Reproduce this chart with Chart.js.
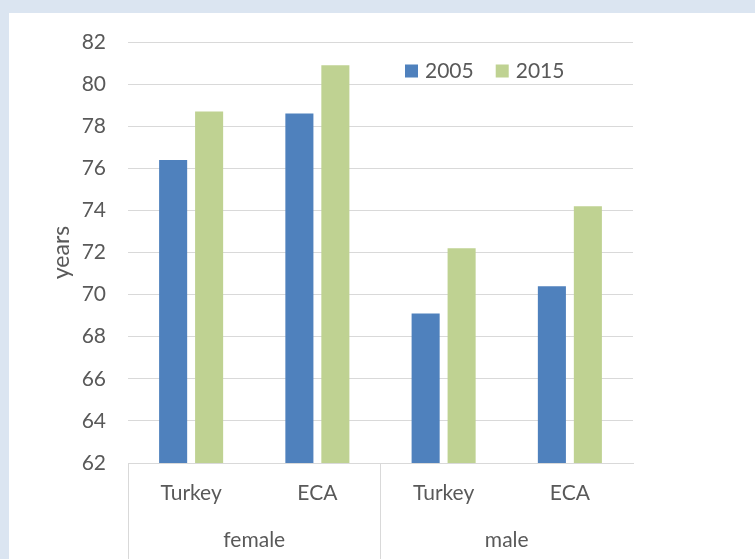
<!DOCTYPE html>
<html>
<head>
<meta charset="utf-8">
<script src="https://cdn.jsdelivr.net/npm/chart.js@4/dist/chart.umd.min.js"></script>
<style>
  html, body { margin: 0; padding: 0; }
  body { background: #dbe5f1; width: 755px; height: 559px; overflow: hidden; position: relative; }
  #panel { position: absolute; left: 9px; top: 13px; width: 746px; height: 546px; background: #fff; }
</style>
</head>
<body>
<div id="panel"><canvas id="chart"></canvas></div>
<script>
'use strict';

// ── Data ─────────────────────────────────────────────────────────────────────
const categories = ['Turkey', 'ECA', 'Turkey', 'ECA'];
const groups     = ['female', 'male'];
const years2005  = [76.4, 78.6, 69.1, 70.4];
const years2015  = [78.7, 80.9, 72.2, 74.2];
const yMin = 62, yMax = 82, yStep = 2;

const FONT = 'Lato, Carlito, "Liberation Sans", sans-serif';
const TEXT = '#595959';
const GRID = '#d9d9d9';

// ── Legend drawn inside the plot, top right ──────────────────────────────────
const insideLegend = {
  id: 'insideLegend',
  afterDraw(chart) {
    const { ctx, chartArea } = chart;
    ctx.save();
    ctx.font = '21px ' + FONT;
    ctx.textBaseline = 'middle';
    let x = chartArea.left + 277;
    const y = chartArea.top + 29;
    chart.data.datasets.forEach(ds => {
      ctx.fillStyle = ds.backgroundColor;
      ctx.fillRect(x, y - 6.5, 13, 13);
      ctx.fillStyle = TEXT;
      ctx.fillText(ds.label, x + 20, y);
      x += 20 + ctx.measureText(ds.label).width + 22;
    });
    ctx.restore();
  },
};

// ── Chart ────────────────────────────────────────────────────────────────────
new Chart(document.getElementById('chart'), {
  type: 'bar',
  data: {
    labels: categories,
    datasets: [
      { label: '2005', data: years2005, backgroundColor: '#4f81bd', categoryPercentage: 0.57, barPercentage: 0.78 },
      { label: '2015', data: years2015, backgroundColor: '#bfd292', categoryPercentage: 0.57, barPercentage: 0.78 },
    ],
  },
  options: {
    responsive: true,
    maintainAspectRatio: false,
    animation: false,
    layout: { padding: { top: 29, right: 122, bottom: 0, left: 0 } },
    plugins: { legend: { display: false }, tooltip: { enabled: false } },
    scales: {
      x: {
        position: 'bottom',
        offset: true,
        grid: {
          offset: true,
          drawOnChartArea: false,
          tickLength: 96,
          color: c => (c.index % 2 === 0 ? GRID : 'rgba(0,0,0,0)'),
        },
        border: { display: true, color: GRID },
        ticks: { color: TEXT, font: { family: FONT, size: 21 }, padding: -78, maxRotation: 0 },
        afterFit: s => { s.height = 42; },
      },
      x2: {
        type: 'category',
        position: 'bottom',
        labels: groups,
        offset: true,
        grid: { display: false, drawTicks: false },
        border: { display: false },
        ticks: { color: TEXT, font: { family: FONT, size: 21 }, padding: 23, maxRotation: 0 },
        afterFit: s => { s.height = 54; },
      },
      y: {
        min: yMin,
        max: yMax,
        ticks: { stepSize: yStep, color: TEXT, font: { family: FONT, size: 21 }, padding: 22 },
        grid: { color: GRID, drawTicks: false },
        border: { display: false },
        title: { display: true, text: 'years', color: TEXT, font: { family: FONT, size: 23 }, padding: { top: 39, bottom: 0 } },
        afterFit: s => { s.width = 119; s.paddingTop = 0; s.paddingBottom = 0; },
      },
    },
  },
  plugins: [insideLegend],
});
</script>
</body>
</html>
